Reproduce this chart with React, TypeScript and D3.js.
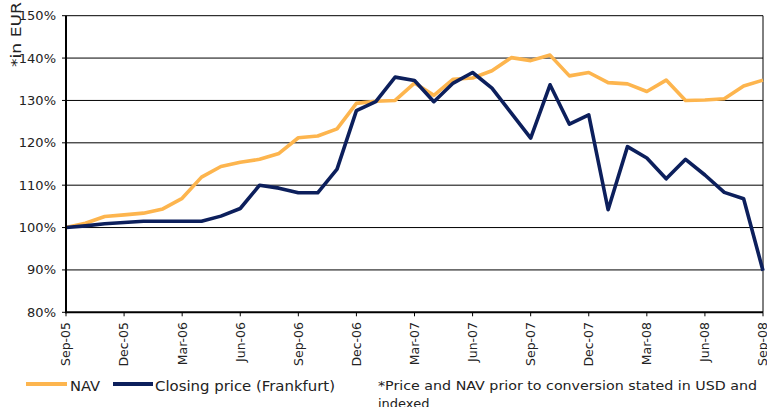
import * as d3 from "d3";

const WIDTH = 767;
const HEIGHT = 407;
const margin = { top: 15.7, bottom: 94.7, left: 66, right: 3 };

const MONTHS: string[] = [
  "Sep-05", "Oct-05", "Nov-05", "Dec-05", "Jan-06", "Feb-06", "Mar-06", "Apr-06",
  "May-06", "Jun-06", "Jul-06", "Aug-06", "Sep-06", "Oct-06", "Nov-06", "Dec-06",
  "Jan-07", "Feb-07", "Mar-07", "Apr-07", "May-07", "Jun-07", "Jul-07", "Aug-07",
  "Sep-07", "Oct-07", "Nov-07", "Dec-07", "Jan-08", "Feb-08", "Mar-08", "Apr-08",
  "May-08", "Jun-08", "Jul-08", "Aug-08", "Sep-08",
];
const TICK_LABELS: string[] = [
  "Sep-05", "Dec-05", "Mar-06", "Jun-06", "Sep-06", "Dec-06", "Mar-07",
  "Jun-07", "Sep-07", "Dec-07", "Mar-08", "Jun-08", "Sep-08",
];
const NAV: number[] = [
  100, 101.0, 102.6, 103.0, 103.4, 104.4, 106.9, 111.9, 114.4, 115.4, 116.1, 117.5,
  121.2, 121.6, 123.3, 129.3, 129.8, 130.0, 134.1, 131.2, 135.0, 135.3, 137.0, 140.1,
  139.4, 140.7, 135.8, 136.6, 134.2, 133.9, 132.1, 134.8, 130.0, 130.1, 130.4, 133.4,
  134.8,
];
const CLOSE: number[] = [
  100, 100.4, 100.9, 101.2, 101.5, 101.5, 101.5, 101.5, 102.7, 104.5, 110.0, 109.3,
  108.2, 108.2, 113.8, 127.6, 129.7, 135.5, 134.7, 129.7, 134.1, 136.6, 132.9, 127.0,
  121.1, 133.7, 124.4, 126.6, 104.2, 119.1, 116.4, 111.5, 116.1, 112.4, 108.3, 106.8,
  89.8,
];
const Y_TICKS: number[] = [80, 90, 100, 110, 120, 130, 140, 150];

const NAV_COLOR = "#FDB54E";
const CLOSE_COLOR = "#0C1F5C";

const App = () => {
  const x = d3
    .scalePoint<string>()
    .domain(MONTHS)
    .range([margin.left, WIDTH - margin.right - 1]);
  const y = d3
    .scaleLinear()
    .domain([80, 150])
    .range([HEIGHT - margin.bottom, margin.top]);

  const line = d3
    .line<number>()
    .x((_, i) => x(MONTHS[i]) as number)
    .y((d) => y(d));

  const x0 = margin.left;
  const x1 = WIDTH - margin.right - 1;
  const yb = y(80);
  const fmt = (v: number) => d3.format(".0%")(v / 100);

  return (
    <div style={{ position: "fixed", left: 0, top: 0 }}>
      <svg width={WIDTH} height={HEIGHT} style={{ display: "block", background: "#fff" }}>
        {/* grid */}
        {Y_TICKS.filter((t) => t > 80).map((t) => (
          <line key={t} x1={x0} x2={x1} y1={y(t)} y2={y(t)} stroke="#000" strokeWidth={1} />
        ))}
        <line x1={x1} x2={x1} y1={y(150)} y2={yb} stroke="#000" strokeWidth={1} />

        {/* y axis */}
        {Y_TICKS.map((t) => (
          <g key={t}>
            <line x1={x0 - 4} x2={x0} y1={y(t)} y2={y(t)} stroke="#000" />
            <text
              x={56}
              y={y(t)}
              dy="0.35em"
              textAnchor="end"
              fontFamily="DejaVu Sans, Verdana, sans-serif"
              fontSize={13}
              fill="#222"
            >
              {fmt(t)}
            </text>
          </g>
        ))}
        <text
          transform="translate(20.5,67) rotate(-90)"
          fontFamily="DejaVu Sans, Verdana, sans-serif"
          fontSize={14}
          fill="#222"
          textLength={65}
          lengthAdjust="spacingAndGlyphs"
        >
          *in EUR
        </text>

        {/* x axis */}
        {TICK_LABELS.map((m) => (
          <g key={m}>
            <line x1={x(m)} x2={x(m)} y1={yb} y2={yb + 4} stroke="#000" />
            <text
              transform={`translate(${x(m)},322) rotate(-90)`}
              dy="0.35em"
              textAnchor="end"
              fontFamily="DejaVu Sans, Verdana, sans-serif"
              fontSize={12.5}
              fill="#222"
            >
              {m}
            </text>
          </g>
        ))}

        {/* series */}
        <path d={line(NAV) ?? ""} fill="none" stroke={NAV_COLOR} strokeWidth={3.6} strokeLinejoin="round" />
        <path d={line(CLOSE) ?? ""} fill="none" stroke={CLOSE_COLOR} strokeWidth={3.6} strokeLinejoin="round" />

        {/* axis lines */}
        <line x1={x0} x2={x0} y1={y(150)} y2={yb + 1} stroke="#000" strokeWidth={2} />
        <line x1={x0 - 1} x2={x1} y1={yb} y2={yb} stroke="#000" strokeWidth={2} />

        {/* legend */}
        <line x1={26} x2={67} y1={384} y2={384} stroke={NAV_COLOR} strokeWidth={4} />
        <text
          x={70}
          y={391}
          fontFamily="DejaVu Sans Condensed, Liberation Sans Narrow, sans-serif"
          fontSize={14.5}
          fill="#222"
          textLength={30}
          lengthAdjust="spacingAndGlyphs"
        >
          NAV
        </text>
        <line x1={113} x2={153} y1={384} y2={384} stroke={CLOSE_COLOR} strokeWidth={4} />
        <text
          x={155}
          y={391}
          fontFamily="DejaVu Sans Condensed, Liberation Sans Narrow, sans-serif"
          fontSize={14.5}
          fill="#222"
          textLength={180}
          lengthAdjust="spacingAndGlyphs"
        >
          Closing price (Frankfurt)
        </text>
        <text
          x={378}
          y={390}
          fontFamily="DejaVu Sans, Verdana, sans-serif"
          fontSize={13}
          fill="#222"
          textLength={379}
          lengthAdjust="spacingAndGlyphs"
        >
          *Price and NAV prior to conversion stated in USD and
        </text>
        <text
          x={378}
          y={408}
          fontFamily="DejaVu Sans, Verdana, sans-serif"
          fontSize={13}
          fill="#222"
        >
          indexed
        </text>
      </svg>
    </div>
  );
};

export default App;
